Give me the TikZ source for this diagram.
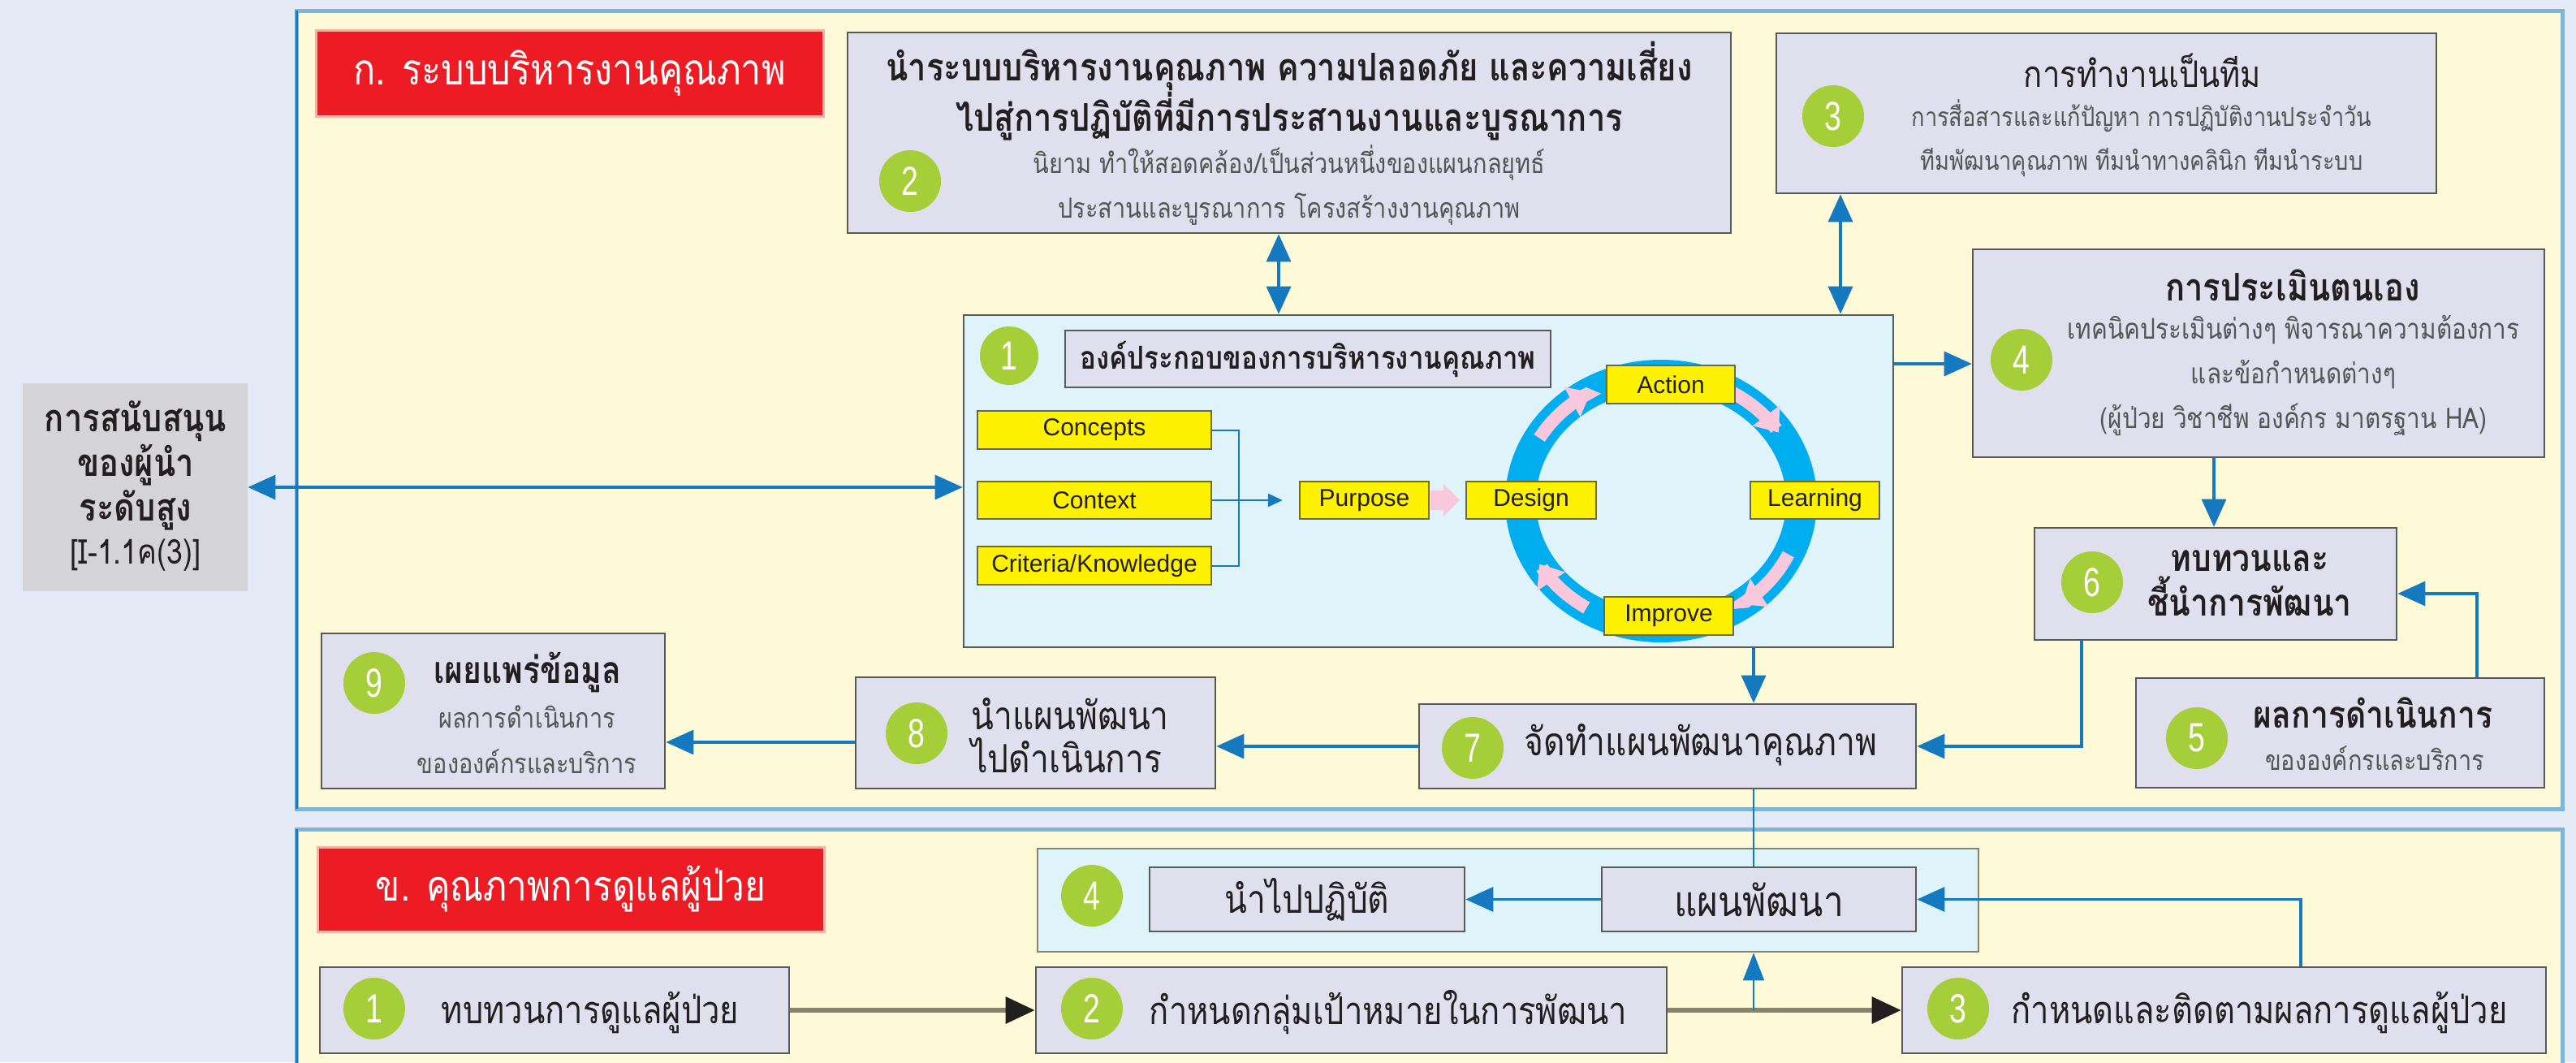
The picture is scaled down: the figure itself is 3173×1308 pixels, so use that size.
\documentclass[tikz,border=0pt]{standalone}
\usepackage{fontspec}
\setmainfont{Liberation Sans}
\newfontfamily\thai[Script=Thai,FakeStretch=0.85]{Loma}
\newfontfamily\numf[FakeStretch=0.75]{Liberation Sans}
\usetikzlibrary{arrows.meta,calc}
\newcommand{\fsz}[2]{\fontsize{#1}{#2}\selectfont}
\definecolor{bgc}{HTML}{E3E9F5}
\definecolor{panel}{HTML}{FEFAD7}
\definecolor{panelb}{HTML}{7DB6D8}
\definecolor{panell}{HTML}{1B7DC0}
\definecolor{redc}{HTML}{ED1C24}
\definecolor{redl}{HTML}{F8B0A4}
\definecolor{lav}{HTML}{DFDFEE}
\definecolor{boxd}{HTML}{58595B}
\definecolor{lblue}{HTML}{DFF3FB}
\definecolor{grn}{HTML}{A6CE39}
\definecolor{arrc}{HTML}{1479BF}
\definecolor{yel}{HTML}{FFF200}
\definecolor{yeld}{HTML}{6B6B3A}
\definecolor{greyb}{HTML}{D4D4D6}
\definecolor{ringc}{HTML}{00AEEF}
\definecolor{pinkc}{HTML}{F9C8DC}
\definecolor{txtc}{HTML}{231F20}
\definecolor{subc}{HTML}{555555}
\definecolor{olive}{HTML}{86836F}
\begin{document}
\begin{tikzpicture}[x=0.5pt,y=-0.5pt,
  sz/.style 2 args={minimum width=#1*0.5pt, minimum height=#2*0.5pt},
  box/.style={draw=boxd, fill=lav, line width=1.3pt, inner sep=0pt},
  ybox/.style={draw=yeld, fill=yel, line width=1.2pt, inner sep=0pt, font=\fsz{15pt}{15pt}, text=txtc},
  num/.style={circle, fill=grn, text=white, minimum size=38pt, inner sep=0pt, font=\numf\fsz{25pt}{25pt}},
  tt/.style={inner sep=0pt, align=center, text=txtc},
  redbox/.style={draw=redl, fill=redc, line width=1.5pt, inner sep=0pt, text=white},
  conn/.style={draw=arrc, line width=1.6pt},
  ar/.style={conn, -{Triangle[length=17pt,width=15pt]}},
  dar/.style={conn, {Triangle[length=17pt,width=15pt]}-{Triangle[length=17pt,width=15pt]}},
  thinc/.style={draw=arrc, line width=0.8pt},
  oliv/.style={draw=olive, line width=3pt, -{Triangle[length=18pt,width=16pt,color=txtc]}},
  pinkar/.style={draw=pinkc, line width=8pt, -{Triangle[length=13pt,width=20pt]}},
]
\useasboundingbox (0,0) rectangle (3173,1308);
\clip (0,0) rectangle (3173,1308);
\fill[bgc] (0,0) rectangle (3173,1308);
% panels
\draw[fill=panel, draw=panelb, line width=2.5pt] (365,13) rectangle (3156,996);
\draw[panell, line width=1.5pt] (365,13) -- (365,996);
\draw[fill=panel, draw=panelb, line width=2.5pt] (365,1021) rectangle (3156,1340);
\draw[panell, line width=1.5pt] (365,1021) -- (365,1340);

% leader support
\node[fill=greyb, sz={277}{256}, inner sep=0pt] (lead) at (166.5,600) {};
\node[tt, font=\thai\bfseries\fsz{23.5pt}{27.5pt}] (leadt) at (167,573) {การสนับสนุน\\ของผู้นำ\\ระดับสูง};
\node[tt, font=\thai\fsz{21pt}{21pt}] (leadr) at (167,684) {[I-1.1ค(3)]};

% A title
\node[redbox, sz={625}{106}, font=\thai\fsz{26.5pt}{26.5pt}] (ra) at (701.5,90) {ก. ระบบบริหารงานคุณภาพ};

% box 2
\node[box, sz={1088}{247}] (b2) at (1588,163.5) {};
\node[num] (n2) at (1121,223) {2};
\node[tt, font=\thai\bfseries\fsz{23.5pt}{25pt}] (t2a) at (1588,112) {นำระบบบริหารงานคุณภาพ ความปลอดภัย และความเสี่ยง\\ไปสู่การปฏิบัติที่มีการประสานงานและบูรณาการ};
\node[tt, text=subc, font=\thai\fsz{17pt}{27.5pt}] (t2b) at (1588,228) {นิยาม ทำให้สอดคล้อง/เป็นส่วนหนึ่งของแผนกลยุทธ์\\ประสานและบูรณาการ โครงสร้างงานคุณภาพ};

% box 3
\node[box, sz={813}{197}] (b3) at (2594.5,139.5) {};
\node[num] (n3) at (2258,143) {3};
\node[tt, font=\thai\fsz{22.5pt}{25pt}] (t3a) at (2639,87) {การทำงานเป็นทีม};
\node[tt, text=subc, font=\thai\fsz{16pt}{27pt}] (t3b) at (2638,170) {การสื่อสารและแก้ปัญหา การปฏิบัติงานประจำวัน\\ทีมพัฒนาคุณภาพ ทีมนำทางคลินิก ทีมนำระบบ};

% box 1
\node[draw=boxd, fill=lblue, line width=1.3pt, sz={1145}{409}, inner sep=0pt] (b1) at (1759.5,592.5) {};
\node[num, minimum size=36pt] (n1) at (1243,438) {1};
\node[box, sz={598}{70}, font=\thai\bfseries\fsz{19.5pt}{19.5pt}, text=txtc] (b1t) at (1611,442) {องค์ประกอบของการบริหารงานคุณภาพ};

% ring
\draw[ringc, line width=19pt] (2046,617) ellipse [x radius=86.5pt, y radius=77.5pt];
\draw[pinkar] plot[domain=150:120, samples=12, smooth] ({2046+173*cos(\x)},{617-155*sin(\x)});
\draw[pinkar] plot[domain=62:33, samples=12, smooth] ({2046+173*cos(\x)},{617-155*sin(\x)});
\draw[pinkar] plot[domain=-25:-55, samples=12, smooth] ({2046+173*cos(\x)},{617-155*sin(\x)});
\draw[pinkar] plot[domain=238:210, samples=12, smooth] ({2046+173*cos(\x)},{617-155*sin(\x)});

\node[ybox, sz={288}{47}] (concepts) at (1348,529.5) {Concepts};
\node[ybox, sz={288}{46}] (context) at (1348,616) {Context};
\node[ybox, sz={288}{47}] (criteria) at (1348,696.5) {Criteria/Knowledge};
\node[ybox, sz={159}{46}] (purpose) at (1680.5,616) {Purpose};
\node[ybox, sz={160}{46}] (design) at (1886,616) {Design};
\node[ybox, sz={159}{46}] (learning) at (2235.5,616) {Learning};
\node[ybox, sz={158}{47}] (action) at (2058,473.5) {Action};
\node[ybox, sz={159}{47}] (improve) at (2055.5,758.5) {Improve};
\fill[pinkc] (1762,604) -- (1778,604) -- (1778,596) -- (1798,616) -- (1778,636) -- (1778,628) -- (1762,628) -- cycle;

% box 4
\node[box, sz={704}{256}] (b4) at (2782,435) {};
\node[num] (n4) at (2490,443) {4};
\node[tt, font=\thai\bfseries\fsz{23.5pt}{25pt}] (t4a) at (2824,351) {การประเมินตนเอง};
\node[tt, text=subc, font=\thai\fsz{17.5pt}{27.5pt}] (t4b) at (2825,462) {เทคนิคประเมินต่างๆ พิจารณาความต้องการ\\และข้อกำหนดต่างๆ\\(ผู้ป่วย วิชาชีพ องค์กร มาตรฐาน HA)};

% box 6
\node[box, sz={446}{138}] (b6) at (2729,719) {};
\node[num] (n6) at (2577,717) {6};
\node[tt, font=\thai\bfseries\fsz{23pt}{27.5pt}] (t6) at (2771,718) {ทบทวนและ\\ชี้นำการพัฒนา};

% box 5
\node[box, sz={503}{135}] (b5) at (2882.5,902.5) {};
\node[num] (n5) at (2706,909) {5};
\node[tt, font=\thai\bfseries\fsz{23pt}{23pt}] (t5a) at (2923,878) {ผลการดำเนินการ};
\node[tt, text=subc, font=\thai\fsz{17pt}{17pt}] (t5b) at (2925,934) {ขององค์กรและบริการ};

% box 7
\node[box, sz={612}{104}] (b7) at (2054,919) {};
\node[num] (n7) at (1814,921) {7};
\node[tt, font=\thai\fsz{24pt}{24pt}] (t7) at (2095,917) {จัดทำแผนพัฒนาคุณภาพ};

% box 8
\node[box, sz={443}{137}] (b8) at (1275.5,902.5) {};
\node[num] (n8) at (1129,903) {8};
\node[tt, align=left, anchor=west, font=\thai\fsz{24pt}{26.5pt}] (t8) at (1196,906) {นำแผนพัฒนา\\ไปดำเนินการ};

% box 9
\node[box, sz={423}{191}] (b9) at (607.5,875.5) {};
\node[num] (n9) at (461,841) {9};
\node[tt, font=\thai\bfseries\fsz{23pt}{23pt}] (t9a) at (650,828) {เผยแพร่ข้อมูล};
\node[tt, text=subc, font=\thai\fsz{17pt}{28pt}] (t9b) at (649,911) {ผลการดำเนินการ\\ขององค์กรและบริการ};

% B title
\node[redbox, sz={624}{104}, font=\thai\fsz{26pt}{26pt}] (rb) at (703,1095) {ข. คุณภาพการดูแลผู้ป่วย};

% B container
\node[draw=olive, fill=lblue, line width=1.3pt, sz={1159}{127}, inner sep=0pt] (bc) at (1857.5,1108.5) {};
\node[num] (nb4) at (1345,1103) {4};
\node[box, sz={388}{79}, font=\thai\fsz{24pt}{24pt}, text=txtc] (bimpl) at (1610,1107.5) {นำไปปฏิบัติ};
\node[box, sz={387}{79}, font=\thai\fsz{26pt}{26pt}, text=txtc] (bplan) at (2166.5,1107.5) {แผนพัฒนา};

\node[box, sz={578}{106}] (bb1) at (683,1244) {};
\node[num] (nb1) at (461,1242) {1};
\node[tt, font=\thai\fsz{23.5pt}{23.5pt}] (tb1) at (727,1247) {ทบทวนการดูแลผู้ป่วย};
\node[box, sz={777}{106}] (bb2) at (1664.5,1244) {};
\node[num] (nb2) at (1345,1242) {2};
\node[tt, font=\thai\fsz{23.5pt}{23.5pt}] (tb2) at (1710,1247) {กำหนดกลุ่มเป้าหมายในการพัฒนา};
\node[box, sz={793}{106}] (bb3) at (2739.5,1244) {};
\node[num] (nb3) at (2412,1242) {3};
\node[tt, font=\thai\fsz{23.5pt}{23.5pt}] (tb3) at (2783,1247) {กำหนดและติดตามผลการดูแลผู้ป่วย};

% helper coordinates
\coordinate (k1) at (3051,0);
\coordinate (k2) at (2564,0);
\coordinate (k3) at (1575,0);
\coordinate (k4) at (2267,0);
\coordinate (k5) at (0,448);
\coordinate (k6) at (2727,0);
\coordinate (k7) at (2160,0);
\coordinate (k8) at (0,914);
\coordinate (k9) at (2834,0);

% connectors
\draw[dar] (lead.east) -- (lead.east -| b1.west);
\draw[dar] (k3 |- b2.south) -- (k3 |- b1.north);
\draw[dar] (k4 |- b3.south) -- (k4 |- b1.north);
\draw[ar] (k5 -| b1.east) -- (k5 -| b4.west);
\draw[ar] (k6 |- b4.south) -- (k6 |- b6.north);
\draw[ar] (k1 |- b5.north) |- ([yshift=-6pt]b6.east);
\draw[ar] (k2 |- b6.south) |- (b7.east);
\draw[ar] (k7 |- b1.south) -- (k7 |- b7.north);
\draw[ar] (b7.west) -- (b7.west -| b8.east);
\draw[ar] (k8 -| b8.west) -- (k8 -| b9.east);
\draw[thinc] (k7 |- b7.south) -- (k7 |- bplan.north);
\draw[ar] (bplan.west) -- (bimpl.east);
\draw[ar] (k9 |- bb3.north) |- (bplan.east);
\draw[oliv] (bb1.east) -- (bb2.west);
\draw[oliv] (bb2.east) -- (bb3.west);
\coordinate (j) at (k7 |- bb2.east);
\draw[thinc, -{Triangle[length=17pt,width=13pt]}] (j) -- (k7 |- bc.south);
% inner bracket
\draw[thinc, line width=1pt] (concepts.east) -- ++(33,0) |- (criteria.east);
\draw[thinc, line width=1.2pt, -{Triangle[length=9pt,width=8pt]}, shorten >=10pt] (context.east) -- (purpose.west);
\end{tikzpicture}
\end{document}
